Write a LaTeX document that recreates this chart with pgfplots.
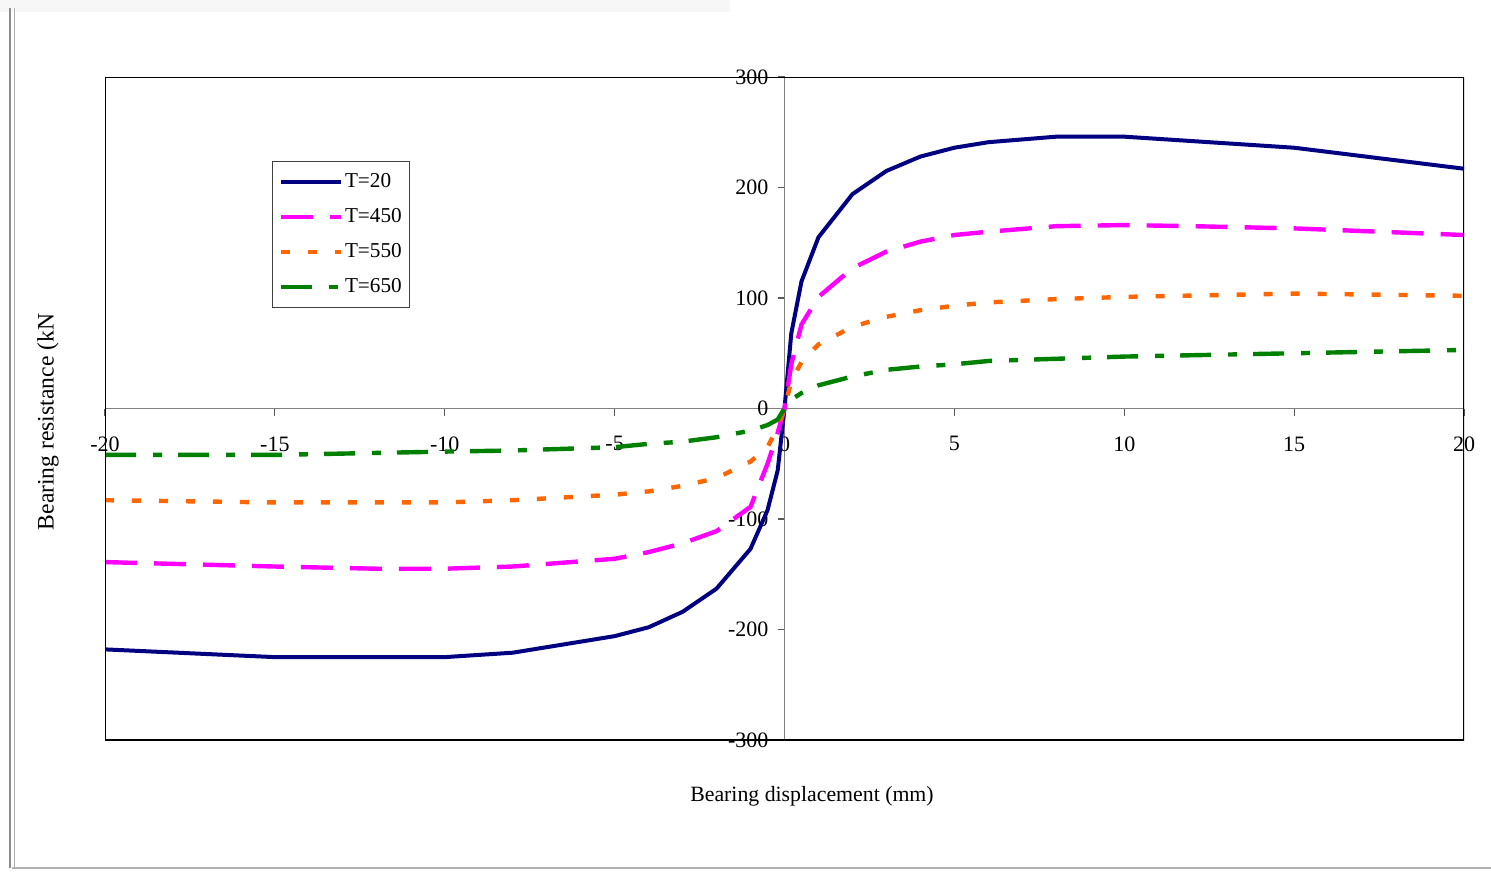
\documentclass[border=0pt]{standalone}
\usepackage{fontspec}
\setmainfont{Liberation Serif}
\usepackage{pgfplots}
\pgfplotsset{compat=1.18}

\definecolor{cNavy}{RGB}{0,0,128}
\definecolor{cMag}{RGB}{255,0,255}
\definecolor{cOrange}{RGB}{255,102,0}
\definecolor{cGreen}{RGB}{0,128,0}

\begin{document}
\begin{tikzpicture}
\useasboundingbox (-52.5pt,-66pt) rectangle (693pt,370pt);
% outer chart frame
\fill[black!3] (-52.5pt,364pt) rectangle (312.5pt,370pt);
\draw[black!45,line width=0.6pt] (-47.5pt,366pt) -- (-47.5pt,-64pt);
\draw[black!30,line width=0.5pt] (-45pt,366pt) -- (-45pt,-64pt);
\draw[black!30,line width=0.6pt] (-46.5pt,-64pt) -- (693pt,-64pt);

\begin{axis}[
  scale only axis,
  width=679.5pt, height=331.5pt,
  xmin=-20, xmax=20, ymin=-300, ymax=300,
  axis lines=middle,
  axis line style={-, black!50, line width=0.6pt},
  hide obscured x ticks=false,
  hide obscured y ticks=false,
  xtick={-20,-15,-10,-5,0,5,10,15,20},
  xticklabels={-20,-15,-10,-5,0,5,10,15,20},
  ytick={-300,-200,-100,0,100,200,300},
  yticklabels={-300,-200,-100,0,100,200,300},
  tick align=outside,
  major tick length=3.5pt,
  tick style={black!65, line width=0.6pt},
  tick label style={font=\fontsize{11}{13}\selectfont},
  xticklabel style={yshift=-7pt},
  yticklabel style={xshift=-1pt},
  clip=true,
  legend cell align=left,
  legend style={
    at={(axis description cs:0.1229,0.8733)}, anchor=north west,
    draw=black!75, line width=0.6pt,
    font=\fontsize{10.6}{12}\selectfont,
    inner xsep=3pt, inner ysep=4.5pt,
    row sep=6.1pt,
    nodes={inner sep=1pt, text height=0.72em, text depth=0.22em},
  },
  legend image code/.code={
    \draw[#1] (0pt,0pt) -- (30pt,0pt);
  },
]
\addplot[cNavy, line width=2pt] coordinates {
  (-20,-218) (-15,-225) (-10,-225) (-8,-221) (-5,-206) (-4,-198)
  (-3,-184) (-2,-163) (-1,-127) (-0.5,-92) (-0.2,-56) (0,0)
  (0.2,68) (0.5,115) (1,155) (2,194) (3,215) (4,228) (5,236)
  (6,241) (8,246) (10,246) (15,236) (20,217)
};
\addlegendentry{T=20}

\addplot[cMag, line width=2.2pt, dash pattern=on 16pt off 8.5pt] coordinates {
  (-20,-139) (-15,-143) (-12,-145) (-10,-145) (-8,-143) (-5,-136)
  (-4,-130) (-3,-122) (-2,-111) (-1,-89) (-0.5,-50) (-0.2,-22) (0,0)
  (0.2,40) (0.5,76) (1,101) (2,127) (3,142) (4,151) (5,157)
  (6,160) (8,165) (10,166) (12,165) (15,163) (20,157)
};
\addlegendentry{T=450}

\addplot[cOrange, line width=2.2pt, dash pattern=on 4.5pt off 9pt] coordinates {
  (-20,-83) (-15,-85) (-10,-85) (-8,-83) (-5,-78) (-4,-75)
  (-3,-70) (-2,-63) (-1,-48) (-0.5,-35) (-0.2,-17) (0,0)
  (0.2,25) (0.5,42) (1,58) (2,74) (3,83) (4,89) (5,93)
  (6,96) (8,99) (10,101) (15,104) (20,102)
};
\addlegendentry{T=550}

\addplot[cGreen, line width=2.2pt, dash pattern=on 15.5pt off 8.5pt on 4.5pt off 8pt] coordinates {
  (-20,-42) (-15,-42) (-10,-39) (-8,-38) (-5,-35) (-4,-32)
  (-3,-30) (-2,-26) (-1,-20) (-0.5,-15) (-0.2,-10) (0,0)
  (0.2,8) (0.5,14) (1,21) (2,29) (3,35) (4,38) (5,40)
  (6,43) (8,45) (10,47) (15,50) (20,53)
};
\addlegendentry{T=650}

% plot frame
\draw[black, line width=0.6pt] (rel axis cs:0,0) rectangle (rel axis cs:1,1);
\end{axis}

\node[font=\fontsize{10.9}{13}\selectfont] at (353.5pt,-28pt) {Bearing displacement (mm)};
\node[font=\fontsize{11.8}{14}\selectfont, rotate=90] at (-28.5pt,159pt) {Bearing resistance (kN};
\end{tikzpicture}
\end{document}
